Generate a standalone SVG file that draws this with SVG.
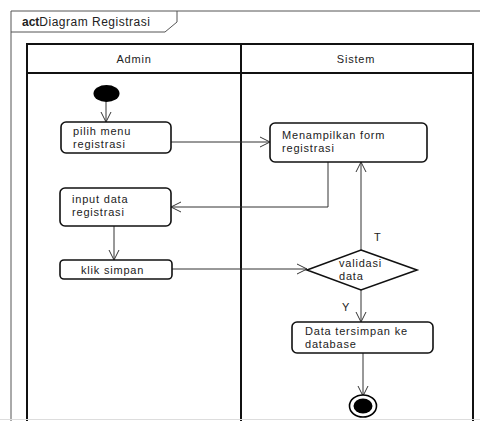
<svg xmlns="http://www.w3.org/2000/svg" width="480" height="421" viewBox="0 0 480 421">
<defs>
<style>
text{font-family:"Liberation Sans",Arial,sans-serif;font-size:11px;letter-spacing:0.8px;fill:#222}
.frame{fill:none;stroke:#555;stroke-width:1}
.lane{fill:none;stroke:#111;stroke-width:2}
.act{fill:#fff;stroke:#111;stroke-width:1.6}
.edge{fill:none;stroke:#333;stroke-width:1}
</style>
<marker id="arr" markerWidth="12" markerHeight="12" refX="11" refY="6" orient="auto" markerUnits="userSpaceOnUse">
<path d="M1,1 L11,6 L1,11" fill="none" stroke="#333" stroke-width="1"/>
</marker>
</defs>
<rect width="480" height="421" fill="#fff"/>
<g id="frame">
<path class="frame" d="M11,421 L11,11 L480,11"/>
<path class="frame" d="M11,32 L165,32 L177,22 L177,11"/>
<text x="22" y="26" style="font-size:12px;letter-spacing:0.5px"><tspan font-weight="bold" style="letter-spacing:0">act</tspan>Diagram Registrasi</text>
</g>
<g id="swimlanes">
<rect class="lane" x="27" y="44" width="446" height="380"/>
<line class="lane" x1="27" y1="73" x2="473" y2="73"/>
<line class="lane" x1="241" y1="44" x2="241" y2="424"/>
<text x="134" y="63" text-anchor="middle">Admin</text>
<text x="356" y="63" text-anchor="middle">Sistem</text>
<line x1="0" y1="419.5" x2="480" y2="419.5" stroke="#ddd" stroke-width="1"/>
</g>
<g id="connectors">
<path class="edge" d="M106,100 L106,122" marker-end="url(#arr)"/>
<path class="edge" d="M171,142 L270,142" marker-end="url(#arr)"/>
<path class="edge" d="M328,162 L328,207 L171,207" marker-end="url(#arr)"/>
<path class="edge" d="M114,226 L114,260" marker-end="url(#arr)"/>
<path class="edge" d="M172,269 L307,269" marker-end="url(#arr)"/>
<path class="edge" d="M361,250 L361,162" marker-end="url(#arr)"/>
<path class="edge" d="M361,290 L361,322" marker-end="url(#arr)"/>
<path class="edge" d="M363,353 L363,396" marker-end="url(#arr)"/>
<text x="374" y="241">T</text>
<text x="342" y="311">Y</text>
</g>
<g id="start">
<ellipse cx="106.5" cy="93.5" rx="13" ry="8.5" fill="#000"/>
</g>
<g id="pilih-menu">
<rect class="act" x="61" y="122" width="110" height="31" rx="5"/>
<text x="73" y="135">pilih menu</text>
<text x="73" y="148">registrasi</text>
</g>
<g id="input-data">
<rect class="act" x="60" y="188" width="111" height="38" rx="5"/>
<text x="72" y="203">input data</text>
<text x="72" y="216">registrasi</text>
</g>
<g id="klik-simpan">
<rect class="act" x="60" y="260" width="112" height="19" rx="4"/>
<text x="81" y="274">klik simpan</text>
</g>
<g id="menampilkan-form">
<rect class="act" x="270" y="123" width="157" height="39" rx="5"/>
<text x="282" y="139">Menampilkan form</text>
<text x="282" y="152">registrasi</text>
</g>
<g id="validasi-data">
<polygon class="act" points="361,250 417,270 361,290 307,270"/>
<text x="339" y="267">validasi</text>
<text x="339" y="280">data</text>
</g>
<g id="data-tersimpan">
<rect class="act" x="292" y="322" width="141" height="31" rx="5"/>
<text x="305" y="335">Data tersimpan ke</text>
<text x="305" y="348">database</text>
</g>
<g id="end">
<ellipse cx="363" cy="406" rx="13.5" ry="11" fill="#fff" stroke="#000" stroke-width="1.6"/>
<ellipse cx="363" cy="406" rx="9.5" ry="7.5" fill="#000"/>
</g>
</svg>
